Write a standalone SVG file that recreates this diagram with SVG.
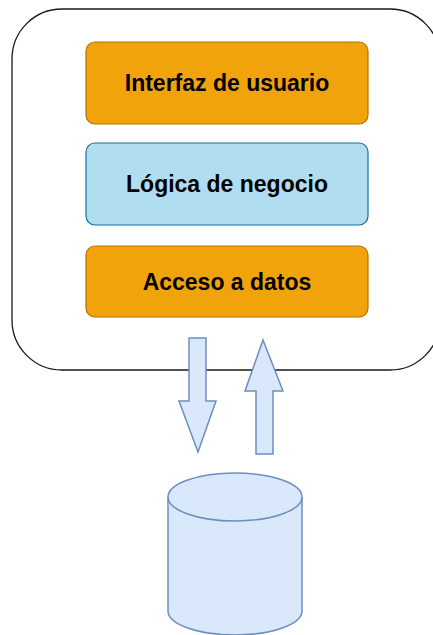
<svg xmlns="http://www.w3.org/2000/svg" width="433" height="635" viewBox="0 0 433 635">
<style>
.lbl{font-family:"Liberation Sans",Arial,sans-serif;font-weight:bold;font-size:23px;fill:#000;text-anchor:middle}
.orange{fill:#f0a30a;stroke:#bd7000;stroke-width:1.2}
.blue{fill:#b1ddf0;stroke:#10739e;stroke-width:1.2}
.db{fill:#dae8fc;stroke:#6c8ebf;stroke-width:1.5}
</style>
<rect width="433" height="635" fill="#fff"/>
<g id="container">
<rect x="12" y="9" width="428" height="361" rx="50" ry="50" fill="#fff" stroke="#1a1a1a" stroke-width="1.3"/>
</g>
<g id="ui">
<rect class="orange" x="86" y="42" width="282" height="82" rx="9"/>
<text class="lbl" x="227" y="91">Interfaz de usuario</text>
</g>
<g id="logic">
<rect class="blue" x="86" y="143" width="282" height="82" rx="9"/>
<text class="lbl" x="227" y="192">Lógica de negocio</text>
</g>
<g id="data">
<rect class="orange" x="86" y="246" width="282" height="71" rx="9"/>
<text class="lbl" x="227" y="290">Acceso a datos</text>
</g>
<g id="connectors">
<path class="db" d="M189,338 H206 V401 H216 L198,452 L179,401 H189 Z"/>
<path class="db" d="M263,340 L283,391 H273 V454 H256 V391 H245 Z"/>
</g>
<g id="database">
<path class="db" d="M168,497 A67,24 0 0 1 302,497 V611 A67,24 0 0 1 168,611 Z"/>
<path class="db" fill="none" d="M168,497 A67,24 0 0 0 302,497"/>
</g>
</svg>
